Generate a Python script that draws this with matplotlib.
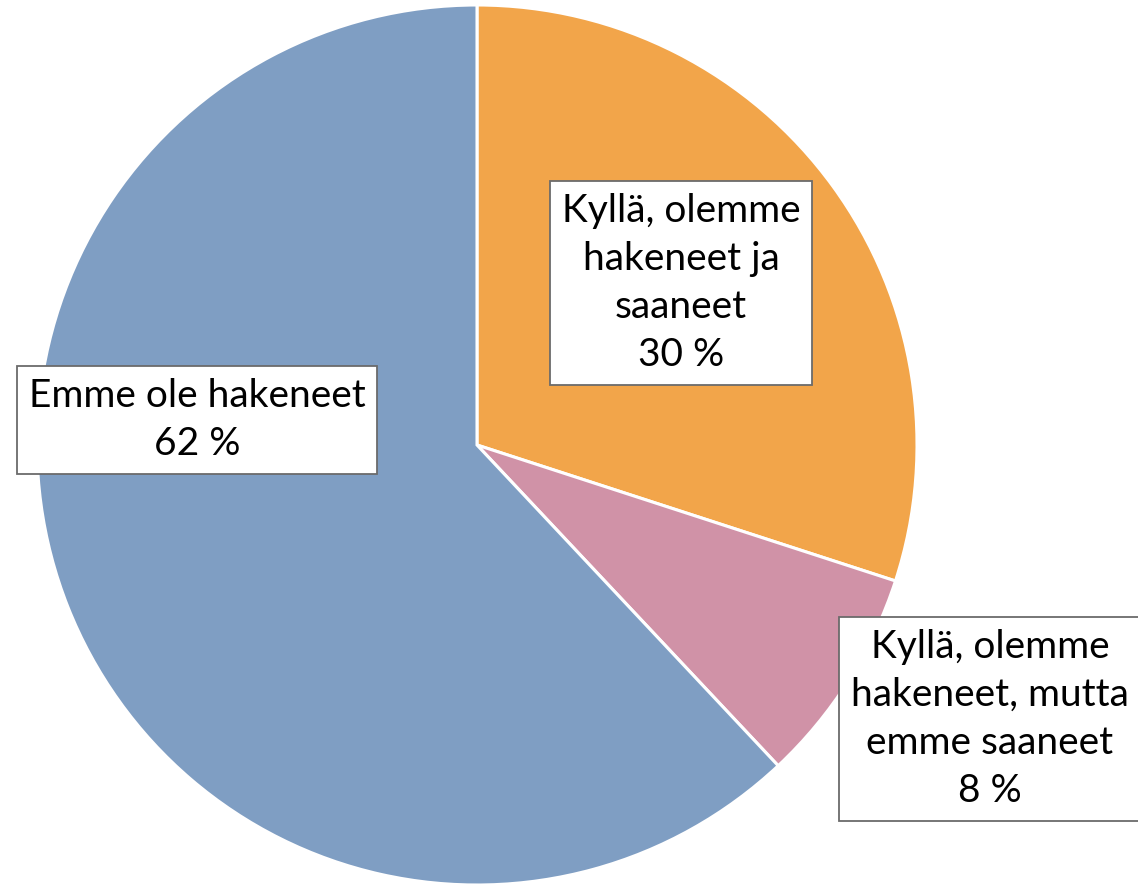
import matplotlib.pyplot as plt

# Data
labels = ["Kyllä, olemme\nhakeneet ja\nsaaneet",
          "Kyllä, olemme\nhakeneet, mutta\nemme saaneet",
          "Emme ole hakeneet"]
values = [30, 8, 62]
colors = ["#F2A54A", "#D092A7", "#7F9EC3"]

# label box centres in pixel coords (x, y from top)
label_pos = [(681, 283), (990, 719), (197, 420)]

W, H = 1138, 885
fig = plt.figure(figsize=(W / 100, H / 100), dpi=100)
ax = fig.add_axes([0, 0, 1, 1])

ax.pie(values, colors=colors, startangle=90, counterclock=False,
       center=(477, H - 445), radius=440, frame=True,
       wedgeprops=dict(edgecolor="white", linewidth=2.2))
ax.set_xlim(0, W)
ax.set_ylim(0, H)
ax.set_aspect("equal")
ax.axis("off")

for lab, v, (px, py) in zip(labels, values, label_pos):
    ax.text(px, H - py, f"{lab}\n{v} %", ha="center", va="center",
            fontsize=28, family="Lato", linespacing=1.42,
            bbox=dict(boxstyle="square,pad=0.3", facecolor="white",
                      edgecolor="#6b6b6b", linewidth=1.3))

fig.savefig("out.png", dpi=100)
